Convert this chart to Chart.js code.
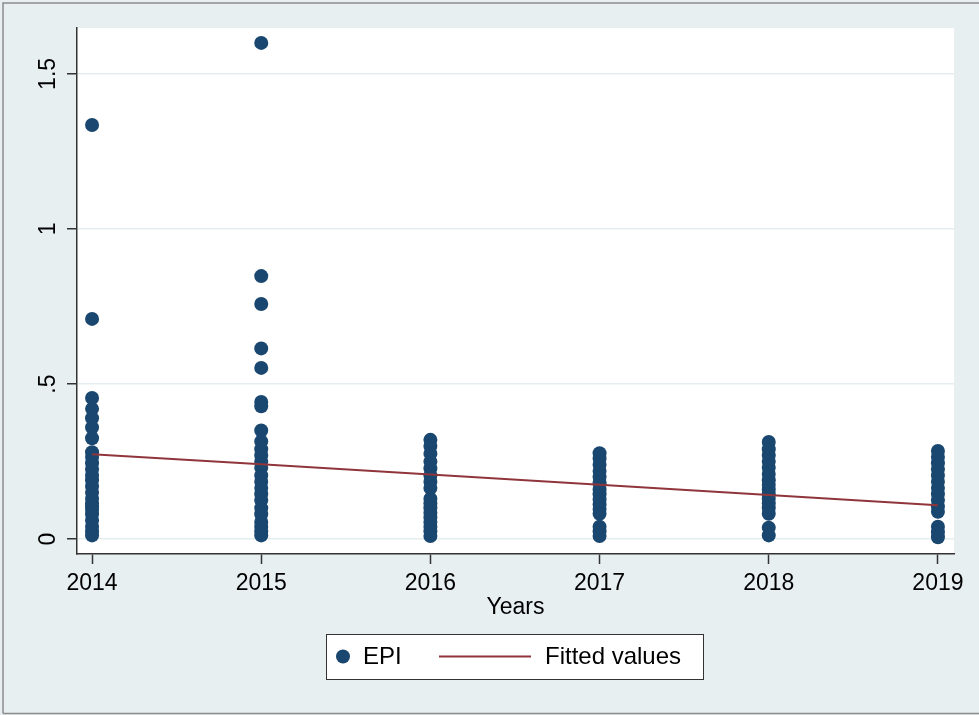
<!DOCTYPE html>
<html>
<head>
<meta charset="utf-8">
<script src="https://cdn.jsdelivr.net/npm/chart.js@4/dist/chart.umd.min.js"></script>
<style>
  html, body { margin: 0; padding: 0; background: #e8eff1; }
  #wrap { width: 979px; height: 715px; position: relative; }
</style>
</head>
<body>
<div id="wrap"><canvas id="c" width="979" height="715"></canvas></div>
<script>
// Survey years on the x axis
const years = [2014, 2015, 2016, 2017, 2018, 2019];

// EPI observations for each year
const epi2014 = [1.335, 0.71, 0.455, 0.42, 0.39, 0.36, 0.325, 0.28, 0.265, 0.245, 0.225, 0.205, 0.19, 0.17, 0.15, 0.13, 0.115, 0.105, 0.095, 0.08, 0.06, 0.04, 0.025, 0.012];
const epi2015 = [1.6, 0.848, 0.758, 0.615, 0.552, 0.442, 0.428, 0.35, 0.315, 0.29, 0.27, 0.25, 0.23, 0.205, 0.185, 0.165, 0.145, 0.125, 0.1, 0.08, 0.055, 0.04, 0.025, 0.012];
const epi2016 = [0.32, 0.3, 0.275, 0.25, 0.228, 0.205, 0.185, 0.165, 0.13, 0.115, 0.1, 0.085, 0.07, 0.055, 0.04, 0.025, 0.01];
const epi2017 = [0.277, 0.26, 0.24, 0.22, 0.2, 0.18, 0.16, 0.145, 0.128, 0.112, 0.097, 0.082, 0.04, 0.025, 0.01];
const epi2018 = [0.313, 0.29, 0.27, 0.25, 0.23, 0.21, 0.19, 0.175, 0.16, 0.145, 0.13, 0.115, 0.1, 0.082, 0.037, 0.012];
const epi2019 = [0.284, 0.265, 0.245, 0.225, 0.205, 0.185, 0.165, 0.145, 0.125, 0.105, 0.088, 0.04, 0.022, 0.006];
const epiByYear = [epi2014, epi2015, epi2016, epi2017, epi2018, epi2019];

// Linear fit of EPI on year
const fitted = [0.274, 0.241, 0.208, 0.175, 0.142, 0.109];

// Y axis ticks and their printed labels
const yTicks = [0, 0.5, 1, 1.5];
const yTickLabels = ['0', '.5', '1', '1.5'];

const seriesNames = ['EPI', 'Fitted values'];

const NAVY = '#1a476f';
const MAROON = '#90353b';
const FONT = "'Liberation Sans', Arial, Helvetica, sans-serif";
const FONT_SIZE = 23;

const epiPoints = [];
years.forEach((yr, i) => epiByYear[i].forEach(v => epiPoints.push({ x: yr, y: v })));
const fitPoints = years.map((yr, i) => ({ x: yr, y: fitted[i] }));

// Page background, frame and white plot region
const backdrop = {
  id: 'backdrop',
  beforeDraw(chart) {
    const { ctx, chartArea: a } = chart;
    ctx.save();
    ctx.fillStyle = '#e8eff1';
    ctx.fillRect(0, 0, chart.width, chart.height);
    ctx.strokeStyle = '#8c8c8c';
    ctx.lineWidth = 1.5;
    ctx.beginPath();
    ctx.moveTo(3, chart.height - 1.5);
    ctx.lineTo(3, 3);
    ctx.lineTo(chart.width, 3);
    ctx.moveTo(3, chart.height - 1.5);
    ctx.lineTo(chart.width, chart.height - 1.5);
    ctx.stroke();
    ctx.fillStyle = '#ffffff';
    ctx.fillRect(a.left, a.top, a.right - a.left, a.bottom - a.top);
    ctx.restore();
  }
};

// Boxed legend below the axis title
const boxedLegend = {
  id: 'boxedLegend',
  afterDraw(chart) {
    const { ctx } = chart;
    const bx = 326, by = 634, bw = 377, bh = 45;
    const cy = by + bh / 2;
    ctx.save();
    ctx.fillStyle = '#ffffff';
    ctx.fillRect(bx, by, bw, bh);
    ctx.strokeStyle = '#333333';
    ctx.lineWidth = 1;
    ctx.strokeRect(bx + 0.5, by + 0.5, bw, bh);
    ctx.fillStyle = NAVY;
    ctx.beginPath();
    ctx.arc(343, cy, 7, 0, Math.PI * 2);
    ctx.fill();
    ctx.strokeStyle = MAROON;
    ctx.lineWidth = 2;
    ctx.beginPath();
    ctx.moveTo(439, cy);
    ctx.lineTo(531, cy);
    ctx.stroke();
    ctx.fillStyle = '#000000';
    ctx.font = '24px ' + FONT;
    ctx.textBaseline = 'middle';
    ctx.textAlign = 'left';
    ctx.fillText(seriesNames[0], 363, cy + 1);
    ctx.fillText(seriesNames[1], 545, cy + 1);
    ctx.restore();
  }
};

new Chart(document.getElementById('c'), {
  type: 'scatter',
  data: {
    datasets: [
      {
        label: seriesNames[0],
        data: epiPoints,
        backgroundColor: NAVY,
        borderWidth: 0,
        pointRadius: 7,
        pointHoverRadius: 7,
        order: 2
      },
      {
        label: seriesNames[1],
        data: fitPoints,
        showLine: true,
        borderColor: MAROON,
        borderWidth: 2,
        pointRadius: 0,
        fill: false,
        order: 1
      }
    ]
  },
  options: {
    responsive: false,
    animation: false,
    devicePixelRatio: 1,
    layout: { padding: { left: 0, top: 28, right: 25, bottom: 0 } },
    plugins: { legend: { display: false }, tooltip: { enabled: false } },
    scales: {
      x: {
        type: 'linear',
        min: 2013.911,
        max: 2019.095,
        afterBuildTicks: s => { s.ticks = years.map(v => ({ value: v })); },
        afterFit: s => { s.height = 161; },
        border: { display: true, color: '#333333', width: 1.5 },
        grid: { drawOnChartArea: false, drawTicks: true, tickLength: 10, tickColor: '#333333', tickWidth: 1.5 },
        ticks: {
          color: '#000000',
          font: { family: FONT, size: FONT_SIZE },
          padding: 6,
          maxRotation: 0,
          callback: v => String(v)
        },
        title: {
          display: true,
          text: 'Years',
          color: '#000000',
          font: { family: FONT, size: FONT_SIZE },
          padding: { top: 0, bottom: 94 }
        }
      },
      y: {
        type: 'linear',
        min: -0.048,
        max: 1.648,
        afterBuildTicks: s => { s.ticks = yTicks.map(v => ({ value: v })); },
        afterFit: s => { s.width = 77; },
        border: { display: true, color: '#333333', width: 1.5 },
        grid: { drawOnChartArea: true, color: '#e4eef0', lineWidth: 1.5, drawTicks: true, tickLength: 10, tickColor: '#333333', tickWidth: 1.5 },
        ticks: {
          color: '#000000',
          font: { family: FONT, size: FONT_SIZE },
          padding: 2,
          minRotation: 90,
          maxRotation: 90,
          crossAlign: 'center',
          callback: v => {
            const i = yTicks.indexOf(v);
            return i >= 0 ? yTickLabels[i] : '';
          }
        }
      }
    }
  },
  plugins: [backdrop, boxedLegend]
});
</script>
</body>
</html>
